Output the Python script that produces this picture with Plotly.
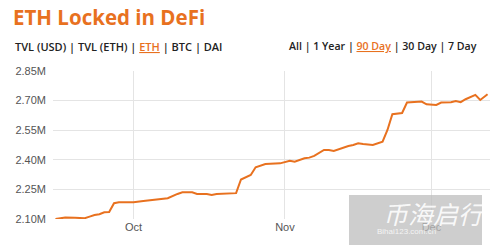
import plotly.graph_objects as go

dates = ["2020-09-15", "2020-09-17", "2020-09-19", "2020-09-21", "2020-09-22", "2020-09-23",
         "2020-09-24", "2020-09-25", "2020-09-26", "2020-09-27", "2020-09-28", "2020-09-30",
         "2020-10-01", "2020-10-03", "2020-10-05", "2020-10-07", "2020-10-08", "2020-10-10",
         "2020-10-11", "2020-10-13", "2020-10-14", "2020-10-16", "2020-10-17", "2020-10-18",
         "2020-10-22", "2020-10-23", "2020-10-25", "2020-10-26", "2020-10-28", "2020-10-31",
         "2020-11-02", "2020-11-03", "2020-11-05", "2020-11-06", "2020-11-07", "2020-11-09",
         "2020-11-10", "2020-11-11", "2020-11-13", "2020-11-14", "2020-11-15", "2020-11-16",
         "2020-11-17", "2020-11-19", "2020-11-21", "2020-11-22", "2020-11-23", "2020-11-25",
         "2020-11-26", "2020-11-29", "2020-11-30", "2020-12-02", "2020-12-03", "2020-12-05",
         "2020-12-06", "2020-12-07", "2020-12-08", "2020-12-10", "2020-12-11", "2020-12-12 12:00"]
eth_locked = [2.100, 2.107, 2.106, 2.104, 2.112, 2.120,
              2.124, 2.134, 2.135, 2.180, 2.185, 2.183,
              2.185, 2.191, 2.196, 2.200, 2.205, 2.227,
              2.235, 2.235, 2.227, 2.227, 2.222, 2.227,
              2.231, 2.300, 2.323, 2.362, 2.379, 2.382,
              2.395, 2.390, 2.408, 2.411, 2.420, 2.450,
              2.450, 2.445, 2.463, 2.470, 2.475, 2.484,
              2.480, 2.475, 2.492, 2.551, 2.631, 2.637,
              2.690, 2.695, 2.681, 2.678, 2.690, 2.692,
              2.698, 2.692, 2.707, 2.729, 2.703, 2.732]
eth_values = [v * 1e6 for v in eth_locked]

ytick_vals = [2.10e6, 2.25e6, 2.40e6, 2.55e6, 2.70e6, 2.85e6]
ytick_text = ["2.10M", "2.25M", "2.40M", "2.55M", "2.70M", "2.85M"]
xtick_vals = ["2020-10-01", "2020-11-01", "2020-12-01"]
xtick_text = ["Oct", "Nov", "Dec"]
left_menu_items = ["TVL (USD)", "TVL (ETH)", "ETH", "BTC", "DAI"]
right_menu_items = ["All", "1 Year", "90 Day", "30 Day", "7 Day"]
left_active = "ETH"
right_active = "90 Day"

ORANGE = "#e8711f"
DARK = "#222222"

fig = go.Figure()
fig.add_trace(go.Scatter(x=dates, y=eth_values, mode="lines",
                         line=dict(color=ORANGE, width=2), hoverinfo="skip"))

fig.update_layout(
    width=500, height=245,
    margin=dict(l=53, r=10, t=71, b=26),
    paper_bgcolor="white", plot_bgcolor="white",
    showlegend=False,
    font=dict(family="Liberation Sans, Arial, sans-serif", size=11, color="#555555"),
    xaxis=dict(range=["2020-09-14 12:00", "2020-12-13"], tickvals=xtick_vals, ticktext=xtick_text,
               showgrid=True, gridcolor="#e4e4e4", gridwidth=1, zeroline=False,
               showline=False, ticks="", tickfont=dict(size=11, color="#555555")),
    yaxis=dict(range=[2.10e6, 2.85e6], tickvals=ytick_vals, ticktext=ytick_text,
               showgrid=True, gridcolor="#e4e4e4", gridwidth=1, zeroline=False,
               showline=False, ticks="", ticklabelstandoff=6,
               tickfont=dict(size=11, color="#555555")),
)


def menu(items, active):
    parts = []
    for it in items:
        if it == active:
            parts.append(f"<span style='color:{ORANGE};text-decoration:underline'>{it}</span>")
        else:
            parts.append(it)
    return " | ".join(parts)


W = 437.0
H = 148.0
fig.add_annotation(xref="paper", yref="paper", x=(11 - 53) / W, y=1 + (71 - 17) / H,
                   xanchor="left", yanchor="middle", showarrow=False,
                   text="<b>ETH Locked in DeFi</b>",
                   font=dict(family="Open Sans, sans-serif", size=20.5, color=ORANGE))

fig.add_annotation(xref="paper", yref="paper", x=(13 - 53) / W, y=1 + (71 - 46) / H,
                   xanchor="left", yanchor="middle", showarrow=False,
                   text=menu(left_menu_items, left_active),
                   font=dict(family="Open Sans, sans-serif", size=11, color=DARK, weight=600))
fig.add_annotation(xref="paper", yref="paper", x=(287 - 53) / W, y=1 + (71 - 46) / H,
                   xanchor="left", yanchor="middle", showarrow=False,
                   text=menu(right_menu_items, right_active),
                   font=dict(family="Open Sans, sans-serif", size=10.6, color=DARK, weight=600))

# watermark box
fig.add_shape(type="rect", xref="paper", yref="paper",
              x0=(349 - 53) / W, x1=(482 - 53) / W,
              y0=-(245 - 219) / H, y1=(219 - 195) / H,
              fillcolor="rgba(190,190,190,0.75)", line=dict(width=0), layer="above")
fig.add_annotation(xref="paper", yref="paper", x=(435 - 53) / W, y=(219 - 213) / H,
                   xanchor="center", yanchor="middle", showarrow=False,
                   text="<i>币海启行</i>",
                   font=dict(family="Noto Sans CJK SC", size=25, color="rgba(255,255,255,0.9)"))
fig.add_annotation(xref="paper", yref="paper", x=(406 - 53) / W, y=-(231 - 219) / H,
                   xanchor="center", yanchor="middle", showarrow=False,
                   text="Bihai123.com.cn",
                   font=dict(family="Liberation Sans", size=8, color="rgba(255,255,255,0.8)"))

fig.write_html("out.html")
